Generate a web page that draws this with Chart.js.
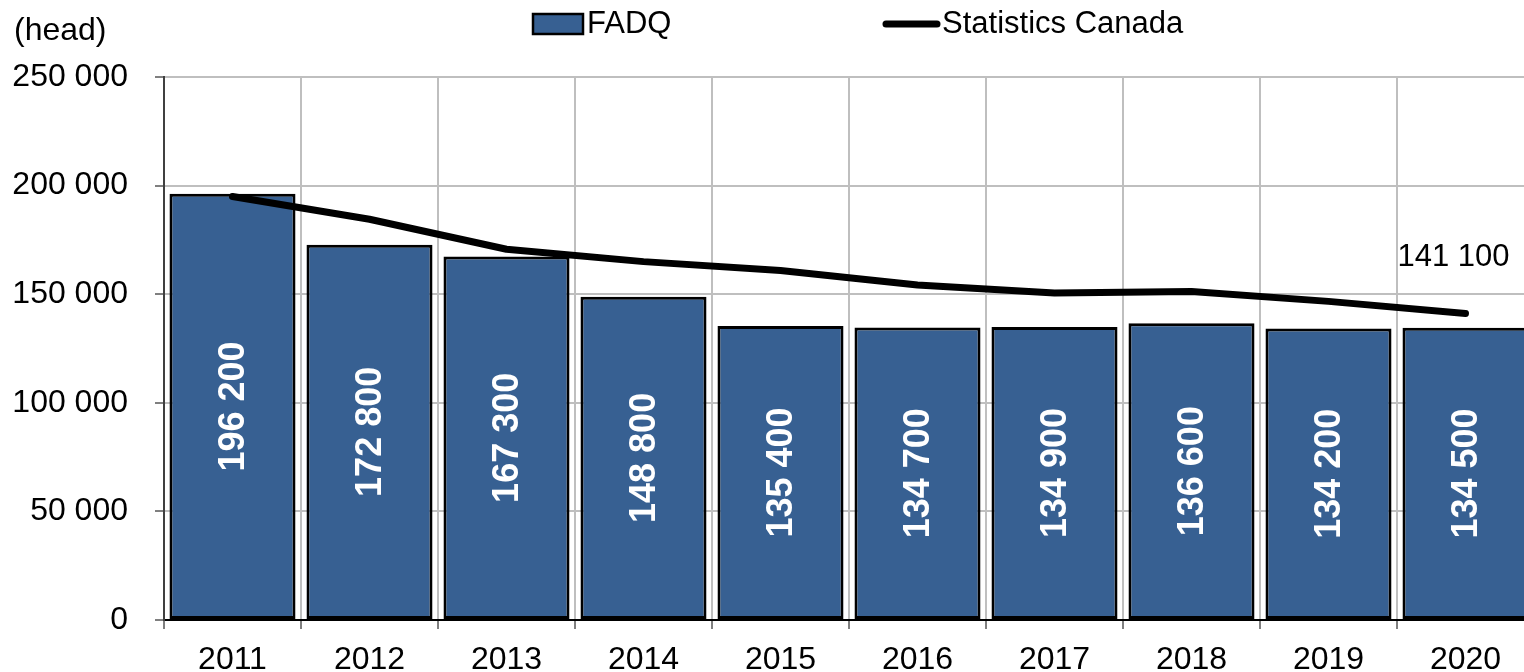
<!DOCTYPE html>
<html>
<head>
<meta charset="utf-8">
<script src="https://cdn.jsdelivr.net/npm/chart.js@4"></script>
<style>
  html, body { margin: 0; padding: 0; background: #fff; overflow: hidden; }
  #wrap { width: 1524px; height: 672px; overflow: hidden; }
</style>
</head>
<body>
<div id="wrap"><canvas id="chart" width="1534" height="672"></canvas></div>
<script>
// donnees
const years = ["2011", "2012", "2013", "2014", "2015", "2016", "2017", "2018", "2019", "2020"];
const fadq = [196200, 172800, 167300, 148800, 135400, 134700, 134900, 136600, 134200, 134500];
const statCan = [195000, 184500, 170700, 165000, 160900, 154200, 150600, 151200, 146700, 141100];
const yTicks = [0, 50000, 100000, 150000, 200000, 250000];

const FONT = "'Liberation Sans', Arial, sans-serif";
const BLUE = "#376092";

function fmt(v) {
  return String(v).replace(/\B(?=(\d{3})+(?!\d))/g, " ");
}

// etiquettes des barres + derniere valeur de la ligne + legende + "(head)"
const labelsPlugin = {
  id: "labels",
  afterDatasetsDraw(chart) {
    const ctx = chart.ctx;
    const bars = chart.getDatasetMeta(0).data;
    ctx.save();
    ctx.fillStyle = "#fff";
    ctx.font = "bold 36px " + FONT;
    ctx.textAlign = "center";
    ctx.textBaseline = "middle";
    bars.forEach((b, i) => {
      const cy = (b.y + b.base) / 2;
      ctx.save();
      ctx.translate(b.x, cy);
      ctx.rotate(-Math.PI / 2);
      ctx.fillText(fmt(fadq[i]), 0, 2);
      ctx.restore();
    });

    const pts = chart.getDatasetMeta(1).data;
    const last = pts[pts.length - 1];
    ctx.fillStyle = "#000";
    ctx.font = "31px " + FONT;
    ctx.fillText(fmt(statCan[statCan.length - 1]), last.x - 12, last.y - 56);
    ctx.restore();
  },
  afterDraw(chart) {
    const ctx = chart.ctx;
    ctx.save();
    ctx.font = "32px " + FONT;
    ctx.textBaseline = "middle";
    ctx.textAlign = "left";
    ctx.fillStyle = "#000";
    ctx.fillText("(head)", 14, 31);

    // legende
    ctx.font = "31px " + FONT;
    ctx.fillStyle = BLUE;
    ctx.fillRect(533, 14, 50, 20);
    ctx.strokeStyle = "#000";
    ctx.lineWidth = 2.5;
    ctx.strokeRect(533, 14, 50, 20);
    ctx.fillStyle = "#000";
    ctx.fillText(chart.data.datasets[0].label, 587, 24);

    ctx.beginPath();
    ctx.lineWidth = 7;
    ctx.lineCap = "round";
    ctx.moveTo(886, 24);
    ctx.lineTo(937, 24);
    ctx.stroke();
    ctx.fillText(chart.data.datasets[1].label, 942, 24);
    ctx.restore();
  }
};

new Chart(document.getElementById("chart"), {
  data: {
    labels: years,
    datasets: [
      {
        type: "bar",
        label: "FADQ",
        data: fadq,
        backgroundColor: BLUE,
        borderColor: "#000",
        borderWidth: 3,
        borderSkipped: false,
        barPercentage: 0.92,
        categoryPercentage: 1,
        order: 1
      },
      {
        type: "line",
        label: "Statistics Canada",
        data: statCan,
        borderColor: "#000",
        borderWidth: 7,
        borderCapStyle: "round",
        borderJoinStyle: "round",
        pointRadius: 0,
        tension: 0,
        fill: false,
        order: 0
      }
    ]
  },
  options: {
    responsive: false,
    animation: false,
    layout: { padding: { top: 77, right: 0, left: 0, bottom: 0 } },
    plugins: {
      legend: { display: false },
      tooltip: { enabled: false }
    },
    scales: {
      x: {
        offset: true,
        grid: {
          offset: true,
          color: "#bfbfbf",
          lineWidth: 2,
          tickColor: "#000",
          tickLength: 9,
          tickWidth: 1
        },
        border: { color: "#000", width: 2 },
        ticks: {
          color: "#000",
          font: { size: 32, family: FONT },
          padding: 12,
          maxRotation: 0
        },
        afterFit(scale) { scale.height = 52; }
      },
      y: {
        min: 0,
        max: 250000,
        afterBuildTicks(scale) { scale.ticks = yTicks.map(v => ({ value: v })); },
        grid: {
          color: "#bfbfbf",
          lineWidth: 2,
          tickColor: "#000",
          tickLength: 9,
          tickWidth: 1
        },
        border: { color: "#404040", width: 2 },
        ticks: {
          color: "#000",
          font: { size: 32, family: FONT },
          padding: 27,
          callback: v => fmt(v)
        },
        afterFit(scale) { scale.width = 164; }
      }
    }
  },
  plugins: [labelsPlugin]
});
</script>
</body>
</html>
